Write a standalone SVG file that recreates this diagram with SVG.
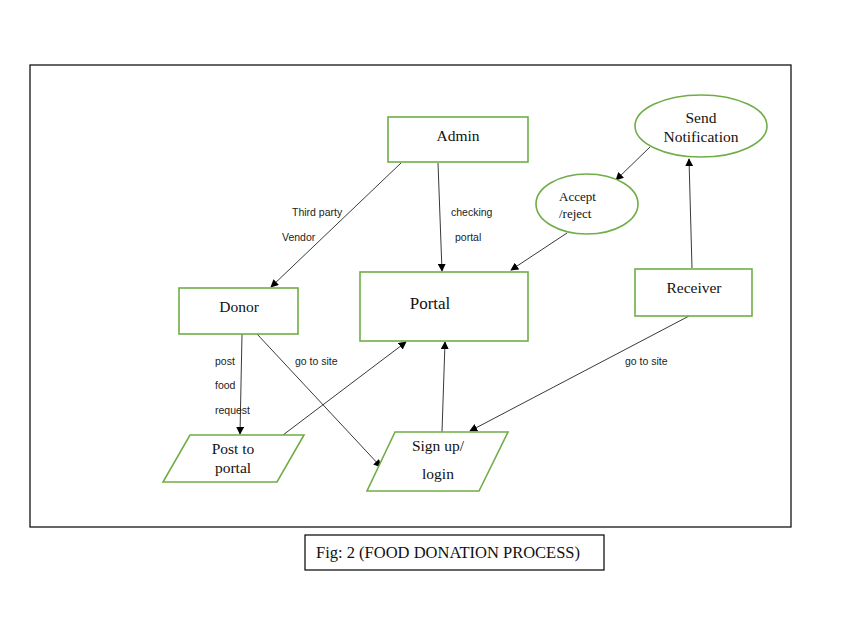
<svg xmlns="http://www.w3.org/2000/svg" width="852" height="634" viewBox="0 0 852 634">
<style>
.n{fill:#fff;stroke:#70AD47;stroke-width:1.6}
.t{font-family:"Liberation Serif",serif;font-size:15.5px;fill:#111;text-anchor:middle}
.l{font-family:"Liberation Sans",sans-serif;font-size:10.5px;fill:#222}
.c{stroke:#222;stroke-width:0.9;fill:none;marker-end:url(#a)}
</style>
<defs>
<marker id="a" viewBox="0 0 10 10" refX="9" refY="5" markerWidth="8" markerHeight="8" markerUnits="userSpaceOnUse" orient="auto"><path d="M0,0 L10,5 L0,10 z" fill="#000"/></marker>
</defs>
<rect width="852" height="634" fill="#fff"/>
<rect x="30" y="65" width="761" height="462" fill="none" stroke="#000" stroke-width="1.2"/>
<g id="connectors">
<line class="c" x1="401" y1="163" x2="271" y2="287"/>
<line class="c" x1="438" y1="163" x2="442" y2="271"/>
<line class="c" x1="650" y1="147" x2="616" y2="180"/>
<line class="c" x1="567" y1="233" x2="511" y2="270"/>
<line class="c" x1="692" y1="268" x2="689" y2="159"/>
<line class="c" x1="689" y1="316" x2="470" y2="431"/>
<line class="c" x1="242" y1="334" x2="240" y2="434"/>
<line class="c" x1="257" y1="334" x2="381" y2="467"/>
<line class="c" x1="283" y1="435" x2="406" y2="342"/>
<line class="c" x1="442" y1="432" x2="445" y2="342"/>
<text class="l" x="292" y="216">Third party</text>
<text class="l" x="282" y="241">Vendor</text>
<text class="l" x="451" y="216">checking</text>
<text class="l" x="455" y="241">portal</text>
<text class="l" x="625" y="365">go to site</text>
<text class="l" x="295" y="365">go to site</text>
<text class="l" x="215" y="365">post</text>
<text class="l" x="215" y="389">food</text>
<text class="l" x="215" y="414">request</text>
</g>
<g id="admin"><rect class="n" x="388" y="117" width="140" height="45"/><text class="t" x="458" y="141">Admin</text></g>
<g id="send-notification"><ellipse class="n" cx="701" cy="126" rx="66" ry="31"/><text class="t" x="701" y="123">Send</text><text class="t" x="701" y="142">Notification</text></g>
<g id="accept-reject"><ellipse class="n" cx="587" cy="204" rx="51" ry="30"/><text class="t" x="559" y="201" style="text-anchor:start;font-size:13px">Accept</text><text class="t" x="559" y="218" style="text-anchor:start;font-size:13px">/reject</text></g>
<g id="portal"><rect class="n" x="360" y="272" width="168" height="69"/><text class="t" x="430" y="309" style="font-size:17px">Portal</text></g>
<g id="donor"><rect class="n" x="179" y="288" width="119" height="46"/><text class="t" x="239" y="312">Donor</text></g>
<g id="receiver"><rect class="n" x="635" y="269" width="117" height="47"/><text class="t" x="694" y="293">Receiver</text></g>
<g id="post-to-portal"><polygon class="n" points="190,435 304,435 277,482 163,482"/><text class="t" x="233" y="454">Post to</text><text class="t" x="233" y="473">portal</text></g>
<g id="sign-up"><polygon class="n" points="395,432 508,432 479,491 367,491"/><text class="t" x="438" y="451">Sign up/</text><text class="t" x="438" y="479">login</text></g>
<g id="caption"><rect x="305" y="535" width="299" height="35" fill="none" stroke="#000" stroke-width="1.2"/><text x="316" y="558" style="font-family:'Liberation Serif',serif;font-size:16.5px;fill:#111">Fig: 2 (FOOD DONATION PROCESS)</text></g>
</svg>
